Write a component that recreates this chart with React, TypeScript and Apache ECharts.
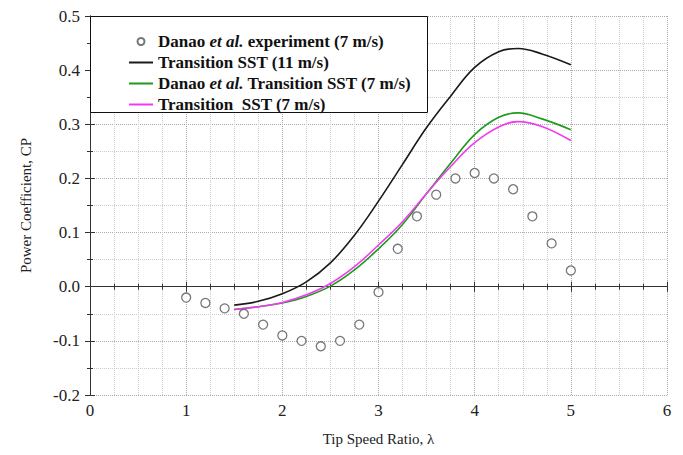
import React, { useEffect, useRef } from "react";
import * as echarts from "echarts";

const expX = [1.0, 1.2, 1.4, 1.6, 1.8, 2.0, 2.2, 2.4, 2.6, 2.8, 3.0, 3.2, 3.4, 3.6, 3.8, 4.0, 4.2, 4.4, 4.6, 4.8, 5.0];
const expCP = [-0.02, -0.03, -0.04, -0.05, -0.07, -0.09, -0.1, -0.11, -0.1, -0.07, -0.01, 0.07, 0.13, 0.17, 0.2, 0.21, 0.2, 0.18, 0.13, 0.08, 0.03];

const simX = [1.5, 1.75, 2.0, 2.25, 2.5, 2.75, 3.0, 3.25, 3.5, 3.75, 4.0, 4.25, 4.45, 4.7, 5.0];
const sst11 = [-0.034, -0.027, -0.013, 0.009, 0.044, 0.095, 0.158, 0.226, 0.294, 0.352, 0.405, 0.434, 0.44, 0.43, 0.41];
const danaoSst7 = [-0.042, -0.037, -0.03, -0.018, 0.001, 0.031, 0.07, 0.115, 0.172, 0.228, 0.281, 0.313, 0.321, 0.31, 0.29];
const sst7 = [-0.042, -0.037, -0.029, -0.015, 0.006, 0.037, 0.077, 0.12, 0.172, 0.222, 0.266, 0.295, 0.305, 0.296, 0.27];

const names = [
  "Danao et al. experiment (7 m/s)",
  "Transition SST (11 m/s)",
  "Danao et al. Transition SST (7 m/s)",
  "Transition  SST (7 m/s)",
];

const xTicks = [0, 6, 1];
const yTicks = [-0.2, 0.5, 0.1];

const FONT = "'Liberation Serif', 'Times New Roman', serif";

const pairs = (xs: number[], ys: number[]) => xs.map((x, i) => [x, ys[i]]);

export default function App() {
  const ref = useRef<HTMLDivElement>(null);
  useEffect(() => {
    if (!ref.current) return;
    const chart = echarts.init(ref.current, undefined, { renderer: "svg" });
    const axisLine = { show: true, lineStyle: { color: "#333", width: 1 } };
    const baseX = {
      type: "value" as const,
      min: xTicks[0],
      max: xTicks[1],
      interval: xTicks[2],
      axisLine,
      axisTick: { show: true, inside: true, length: 5, lineStyle: { color: "#333" } },
      minorTick: { show: true, splitNumber: 4, length: 3, lineStyle: { color: "#333" } },
    };
    const baseY = {
      type: "value" as const,
      min: yTicks[0],
      max: yTicks[1],
      interval: yTicks[2],
      axisLine,
      axisTick: { show: true, inside: true, length: 5, lineStyle: { color: "#333" } },
      minorTick: { show: true, splitNumber: 2, length: 3, lineStyle: { color: "#333" } },
    };
    chart.setOption({
      animation: false,
      backgroundColor: "#fff",
      grid: { left: 90, right: 16, top: 16, bottom: 60, containLabel: false },
      graphic: [
        {
          type: "rect",
          z: 3,
          shape: { x: 90.5, y: 16.5, width: 337, height: 96 },
          style: { fill: "#fff", stroke: "#111", lineWidth: 1 },
        },
      ],
      legend: {
        orient: "vertical",
        left: 128,
        top: 33,
        z: 5,
        itemGap: 4,
        itemWidth: 24,
        itemHeight: 7,
        padding: 0,
        data: [
          { name: names[0] },
          { name: names[1], itemStyle: { opacity: 0 } },
          { name: names[2], itemStyle: { opacity: 0 } },
          { name: names[3], itemStyle: { opacity: 0 } },
        ],
        textStyle: {
          fontFamily: FONT,
          fontWeight: "bold",
          fontSize: 17,
          color: "#111",
          lineHeight: 17,
          rich: {
            i: { fontFamily: FONT, fontWeight: "bold", fontStyle: "italic", fontSize: 17, color: "#111" },
          },
        },
        formatter: (n: string) => n.replace("et al.", "{i|et al.}"),
      },
      xAxis: [
        {
          ...baseX,
          position: "bottom",
          name: "Tip Speed Ratio, λ",
          nameLocation: "middle",
          nameGap: 36,
          nameTextStyle: { fontFamily: FONT, fontSize: 15, color: "#222" },
          axisLabel: { fontFamily: FONT, fontSize: 17, color: "#222", margin: 7 },
          splitLine: { show: true, lineStyle: { color: "#aaa", type: "dotted", width: 1 } },
          minorSplitLine: { show: true, lineStyle: { color: "#ccc", type: "dotted", width: 1 } },
        },
        {
          ...baseX,
          position: "top",
          axisLabel: { show: false },
          splitLine: { show: false },
        },
      ],
      yAxis: [
        {
          ...baseY,
          position: "left",
          name: "Power Coefficient, CP",
          nameLocation: "middle",
          nameGap: 57,
          nameTextStyle: { fontFamily: FONT, fontSize: 15, color: "#222" },
          axisLabel: {
            fontFamily: FONT,
            fontSize: 17,
            color: "#222",
            margin: 10,
            formatter: (v: number) => v.toFixed(1),
          },
          splitLine: { show: true, lineStyle: { color: "#aaa", type: "dotted", width: 1 } },
          minorSplitLine: { show: true, lineStyle: { color: "#ccc", type: "dotted", width: 1 } },
        },
        {
          ...baseY,
          position: "right",
          axisLabel: { show: false },
          splitLine: { show: false },
        },
      ],
      series: [
        {
          name: names[0],
          type: "scatter",
          data: pairs(expX, expCP),
          symbol: "circle",
          symbolSize: 9,
          itemStyle: { color: "#fff", borderColor: "#555", borderWidth: 1.3 },
          z: 4,
        },
        {
          name: names[1],
          type: "line",
          data: pairs(simX, sst11),
          smooth: 0.4,
          symbol: "none",
          lineStyle: { color: "#1a1a1a", width: 1.6 },
          itemStyle: { color: "#1a1a1a" },
        },
        {
          name: names[2],
          type: "line",
          data: pairs(simX, danaoSst7),
          smooth: 0.4,
          symbol: "none",
          lineStyle: { color: "#1f9a1f", width: 1.6 },
          itemStyle: { color: "#1f9a1f" },
        },
        {
          name: names[3],
          type: "line",
          data: pairs(simX, sst7),
          smooth: 0.4,
          symbol: "none",
          lineStyle: { color: "#f03cf0", width: 1.6 },
          itemStyle: { color: "#f03cf0" },
        },
      ],
    });
    return () => chart.dispose();
  }, []);
  return (
    <div
      ref={ref}
      style={{ position: "absolute", left: 0, top: 0, width: 683, height: 455 }}
    />
  );
}
